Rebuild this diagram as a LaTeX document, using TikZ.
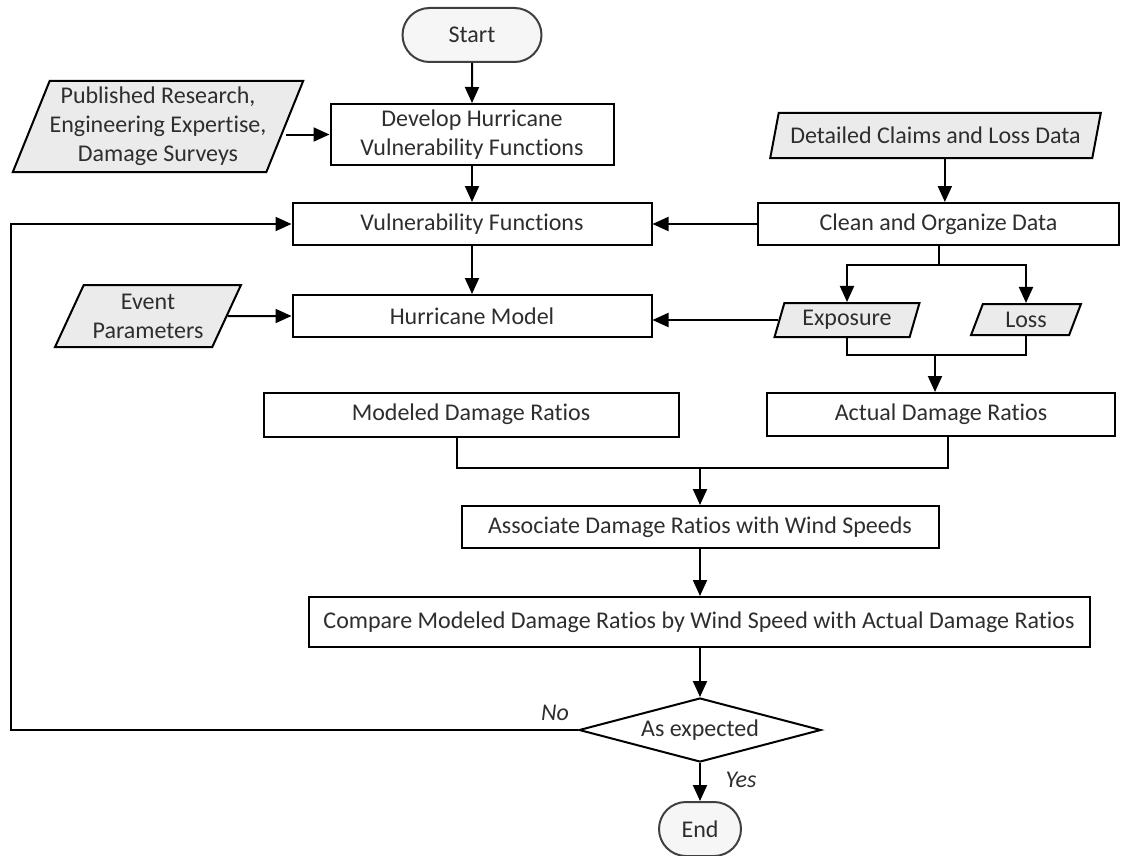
\documentclass[tikz,border=0pt]{standalone}
\usepackage{fontspec}
\setmainfont{Carlito}[RawFeature=-liga]
\usetikzlibrary{shapes.geometric,shapes.misc,arrows.meta}
\begin{document}
\begin{tikzpicture}[x=0.75pt,y=-0.75pt,
  every node/.style={font=\fontsize{18}{21.8}\selectfont, text=black!82, inner sep=0pt, align=center},
  proc/.style={draw=black, line width=1.5pt, fill=white, rectangle},
  data/.style={draw=black, line width=1.5pt, fill=gray!16, trapezium, trapezium stretches=true,
    trapezium left angle=#1, trapezium right angle=180-#1},
  term/.style={draw=black!75, line width=1.5pt, fill=gray!7, rounded rectangle},
  dec/.style={draw=black, line width=1.5pt, fill=white, diamond, aspect=3.78},
  arr/.style={line width=1.5pt, -{Triangle[length=12pt,width=10.5pt]}},
  ln/.style={line width=1.5pt}]
\useasboundingbox (0,0) rectangle (1121,856);

\node[term, minimum width=104.25pt, minimum height=40.5pt] (start) at (472,35) {Start};
\node[proc, minimum width=212.25pt, minimum height=45.75pt] (dev) at (472,134.5) {Develop Hurricane\\Vulnerability Functions};
\node[data=65, minimum width=216pt, minimum height=68.25pt] (pub) at (158,126.5) {Published Research,\\Engineering Expertise,\\Damage Surveys};
\node[data=65, minimum width=248.25pt, minimum height=33.75pt] (det) at (935.5,135.5) {Detailed Claims and Loss Data};
\node[proc, minimum width=269.25pt, minimum height=31.5pt] (vuln) at (472,224) {Vulnerability Functions};
\node[proc, minimum width=270.75pt, minimum height=31.5pt] (clean) at (938.5,224) {Clean and Organize Data};
\node[data=61, minimum width=139.5pt, minimum height=46.5pt] (event) at (148,316) {Event\\Parameters};
\node[proc, minimum width=269.25pt, minimum height=31.5pt] (hm) at (472,316) {Hurricane Model};
\node[data=70, minimum width=109.5pt, minimum height=25.5pt] (expo) at (847,320) {Exposure};
\node[data=70, minimum width=82.5pt, minimum height=23.25pt] (loss) at (1026,319.5) {Loss};
\node[proc, minimum width=311.25pt, minimum height=33pt] (modeled) at (471,414.5) {Modeled Damage Ratios};
\node[proc, minimum width=261pt, minimum height=32.25pt] (actual) at (941,414.5) {Actual Damage Ratios};
\node[proc, minimum width=357.75pt, minimum height=31.5pt] (assoc) at (700,527) {Associate Damage Ratios with Wind Speeds};
\node[proc, minimum width=585.75pt, minimum height=37.5pt] (cmp) at (699,622) {Compare Modeled Damage Ratios by Wind Speed with Actual Damage Ratios};
\node[dec, minimum width=181.5pt, minimum height=48pt] (asexp) at (700,730) {As expected};
\node[term, minimum width=61.5pt, minimum height=40.5pt] (end) at (700,829) {End};

\coordinate (br) at (938.5,265);
\coordinate (j1) at (935,355);
\coordinate (j2) at (700,468);
\coordinate (lp) at (11,730);

\draw[arr] (start) -- (dev);
\draw[arr] (pub.east |- dev.west) -- (dev.west);
\draw[arr] (dev) -- (vuln);
\draw[arr] ([xshift=7pt]det.south) -- ([xshift=7pt]det.south |- clean.north);
\draw[arr] (clean.west) -- (vuln.east);
\draw[arr] (vuln) -- (hm);
\draw[arr] (event.east) -- (hm.west);
\draw[ln] (clean.south) -- (br);
\draw[arr] (br) -| (expo.north);
\draw[arr] (br) -| (loss.north);
\draw[arr] (expo.west) -- (expo.west -| hm.east);
\draw[ln] (expo.south) |- (j1);
\draw[ln] (loss.south) |- (j1);
\draw[arr] (j1) -- (j1 |- actual.north);
\draw[ln] ([xshift=-10.5pt]modeled.south) |- (j2);
\draw[ln] ([xshift=5.5pt]actual.south) |- (j2);
\draw[arr] (j2) -- (assoc.north);
\draw[arr] (assoc.south) -- (assoc.south |- cmp.north);
\draw[arr] (cmp.south -| asexp.north) -- (asexp.north);
\draw[arr] (asexp.south) -- (end.north);
\draw[arr] (asexp.west) -- (lp) |- (vuln.west);
\node[font=\fontsize{18}{21.8}\selectfont\itshape] (no) at (555,713) {No};
\node[font=\fontsize{18}{21.8}\selectfont\itshape] (yes) at (741,780) {Yes};
\end{tikzpicture}
\end{document}
